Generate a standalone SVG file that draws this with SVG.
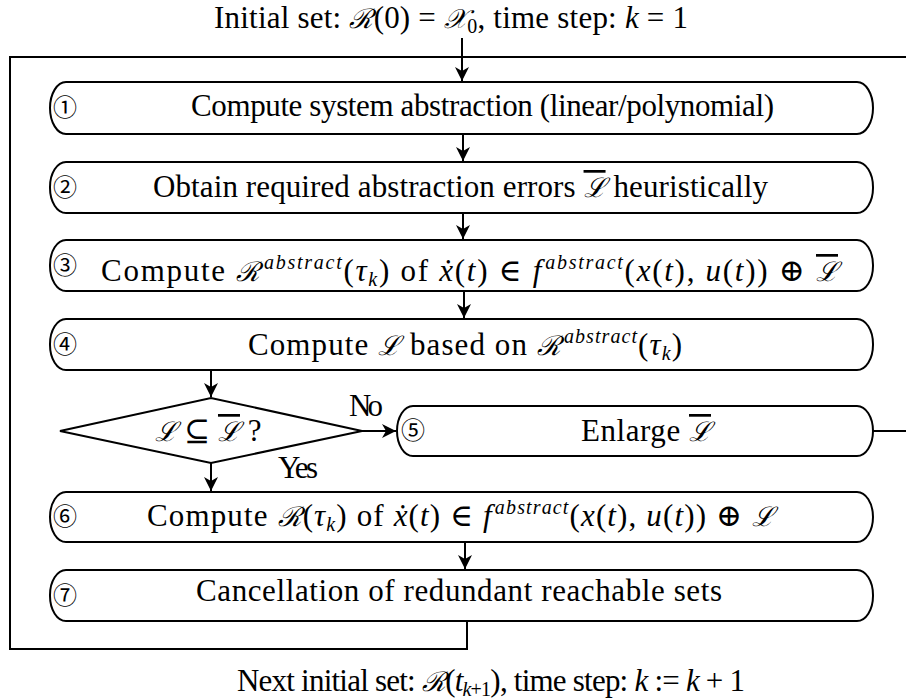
<svg xmlns="http://www.w3.org/2000/svg" width="906" height="700" viewBox="0 0 906 700">
<style>
.t{font-family:"Liberation Serif","DejaVu Serif",serif;font-size:31px;fill:#000}
.i{font-style:italic}
.cal{font-family:"DejaVu Serif","Liberation Serif",serif;font-style:italic;font-size:27px}
.bar{text-decoration:overline}
.sm{font-size:20px}
.num{font-family:"Noto Sans CJK JP","DejaVu Sans",sans-serif;font-size:24px;fill:#000}
.box{fill:#fff;stroke:#000;stroke-width:2}
.ln{fill:none;stroke:#000;stroke-width:2}
</style>
<defs>
<marker id="ah" markerUnits="userSpaceOnUse" markerWidth="16" markerHeight="14" refX="14" refY="7" orient="auto">
<path d="M0,0 L14,7 L0,14 L4,7 z" fill="#000"/>
</marker>
</defs>
<rect width="906" height="700" fill="#fff"/>
<text class="t" x="214" y="28" textLength="474" lengthAdjust="spacing">Initial set: <tspan class="cal">ℛ</tspan>(0) = <tspan class="cal">𝒳</tspan><tspan class="sm" dy="5">0</tspan><tspan dy="-5">, time step: </tspan><tspan class="i">k</tspan> = 1</text>
<text class="t" x="237" y="691" textLength="508" lengthAdjust="spacing">Next initial set: <tspan class="cal">ℛ</tspan>(<tspan class="i">t</tspan><tspan class="sm i" dy="5">k</tspan><tspan class="sm">+1</tspan><tspan dy="-5">), time step: </tspan><tspan class="i">k</tspan> := <tspan class="i">k</tspan> + 1</text>
<g id="connectors">
<path class="ln" d="M462,38 V81" marker-end="url(#ah)"/>
<path class="ln" d="M463,134 V161" marker-end="url(#ah)"/>
<path class="ln" d="M463,213 V239" marker-end="url(#ah)"/>
<path class="ln" d="M464,291 V318" marker-end="url(#ah)"/>
<path class="ln" d="M211,370 V397" marker-end="url(#ah)"/>
<path class="ln" d="M362,431 H396" marker-end="url(#ah)"/>
<path class="ln" d="M211,463 V491" marker-end="url(#ah)"/>
<path class="ln" d="M465,542 V569" marker-end="url(#ah)"/>
<path class="ln" d="M467,621 V649 H10 V57 H906"/>
<path class="ln" d="M873,431 H906"/>
<text class="t" x="349" y="416" textLength="34" lengthAdjust="spacing">No</text>
<text class="t" x="278" y="478" textLength="40" lengthAdjust="spacing">Yes</text>
</g>
<g id="n1">
<rect class="box" x="50" y="82" width="823" height="52" rx="16" ry="26"/>
<text class="num" x="65" y="116" text-anchor="middle">①</text>
<text class="t" x="191" y="116" textLength="583" lengthAdjust="spacing">Compute system abstraction (linear/polynomial)</text>
</g>
<g id="n2">
<rect class="box" x="50" y="162" width="823" height="51" rx="16" ry="25"/>
<text class="num" x="65" y="196" text-anchor="middle">②</text>
<text class="t" x="153" y="197" textLength="615" lengthAdjust="spacing">Obtain required abstraction errors <tspan class="cal bar">ℒ</tspan> heuristically</text>
</g>
<g id="n3">
<rect class="box" x="50" y="240" width="823" height="51" rx="16" ry="25"/>
<text class="num" x="65" y="274" text-anchor="middle">③</text>
<text class="t" x="101" y="281" textLength="737" lengthAdjust="spacing">Compute <tspan class="cal">ℛ</tspan><tspan class="sm i" dx="2" dy="-12">abstract</tspan><tspan dy="12">(</tspan><tspan class="i">τ</tspan><tspan class="sm i" dy="5">k</tspan><tspan dy="-5">) of </tspan><tspan class="i">ẋ</tspan>(<tspan class="i">t</tspan>) ∈ <tspan class="i">f</tspan><tspan class="sm i" dx="2" dy="-12">abstract</tspan><tspan dy="12">(</tspan><tspan class="i">x</tspan>(<tspan class="i">t</tspan>), <tspan class="i">u</tspan>(<tspan class="i">t</tspan>)) ⊕ <tspan class="cal bar">ℒ</tspan></text>
</g>
<g id="n4">
<rect class="box" x="50" y="319" width="823" height="51" rx="16" ry="25"/>
<text class="num" x="65" y="353" text-anchor="middle">④</text>
<text class="t" x="248" y="355" textLength="434" lengthAdjust="spacing">Compute <tspan class="cal">ℒ</tspan> based on <tspan class="cal">ℛ</tspan><tspan class="sm i" dx="2" dy="-12">abstract</tspan><tspan dy="12">(</tspan><tspan class="i">τ</tspan><tspan class="sm i" dy="5">k</tspan><tspan dy="-5">)</tspan></text>
</g>
<g id="d1">
<polygon class="box" points="60,431 211,398 362,431 211,463"/>
<text class="t" x="208" y="441" text-anchor="middle"><tspan class="cal">ℒ</tspan> ⊆ <tspan class="cal bar">ℒ</tspan> ?</text>
</g>
<g id="n5">
<rect class="box" x="397" y="406" width="476" height="50" rx="16" ry="25"/>
<text class="num" x="413" y="439" text-anchor="middle">⑤</text>
<text class="t" x="581" y="441" textLength="130" lengthAdjust="spacing">Enlarge <tspan class="cal bar">ℒ</tspan></text>
</g>
<g id="n6">
<rect class="box" x="50" y="492" width="823" height="50" rx="16" ry="25"/>
<text class="num" x="65" y="525" text-anchor="middle">⑥</text>
<text class="t" x="147" y="526" textLength="627" lengthAdjust="spacing">Compute <tspan class="cal">ℛ</tspan>(<tspan class="i">τ</tspan><tspan class="sm i" dy="5">k</tspan><tspan dy="-5">) of </tspan><tspan class="i">ẋ</tspan>(<tspan class="i">t</tspan>) ∈ <tspan class="i">f</tspan><tspan class="sm i" dx="2" dy="-12">abstract</tspan><tspan dy="12">(</tspan><tspan class="i">x</tspan>(<tspan class="i">t</tspan>), <tspan class="i">u</tspan>(<tspan class="i">t</tspan>)) ⊕ <tspan class="cal">ℒ</tspan></text>
</g>
<g id="n7">
<rect class="box" x="50" y="570" width="823" height="51" rx="16" ry="25"/>
<text class="num" x="65" y="604" text-anchor="middle">⑦</text>
<text class="t" x="196" y="601" textLength="526" lengthAdjust="spacing">Cancellation of redundant reachable sets</text>
</g>
</svg>
